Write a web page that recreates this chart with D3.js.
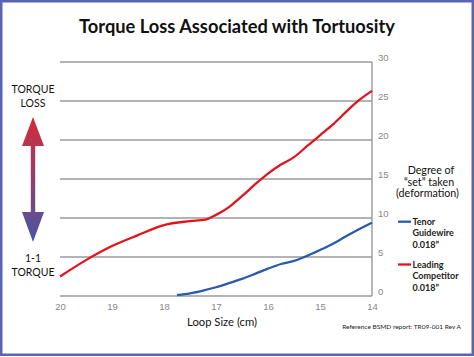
<!DOCTYPE html>
<html><head><meta charset="utf-8">
<script src="https://cdn.jsdelivr.net/npm/d3@7"></script>
<style>
html,body{margin:0;padding:0;background:#fff;}
svg{display:block;font-family:Lato,"Open Sans",sans-serif;}
</style></head>
<body>
<svg id="chart" width="474" height="357"></svg>
<script>
const title = "Torque Loss Associated with Tortuosity";
const xTicks = [20, 19, 18, 17, 16, 15, 14];
const yTicks = [0, 5, 10, 15, 20, 25, 30];
const competitorX = [20, 19.5, 19, 18.5, 18, 17.5, 17.2, 17, 16.75, 16.5, 16.25, 16, 15.75, 15.5, 15.25, 15, 14.75, 14.5, 14.25, 14];
const competitorY = [2.5, 4.6, 6.4, 7.8, 9.1, 9.6, 9.8, 10.4, 11.4, 12.8, 14.3, 15.7, 16.85, 17.8, 19.2, 20.6, 22.0, 23.6, 25.1, 26.3];
const tenorX = [17.75, 17.5, 17.25, 17, 16.75, 16.5, 16.25, 16, 15.75, 15.5, 15.25, 15, 14.75, 14.5, 14.25, 14];
const tenorY = [0.12, 0.35, 0.7, 1.12, 1.64, 2.2, 2.84, 3.5, 4.1, 4.5, 5.15, 5.9, 6.7, 7.65, 8.55, 9.4];
const seriesNames = [["Tenor", "Guidewire", "0.018\u201D"], ["Leading", "Competitor", "0.018\u201D"]];
const xTitle = "Loop Size (cm)";
const rightTitle = ["Degree of", "\u201Cset\u201D taken", "(deformation)"];
const leftTop = ["TORQUE", "LOSS"];
const leftBottom = ["1-1", "TORQUE"];
const footnote = "Reference BSMD report: TR09-001 Rev A";

const svg = d3.select("#chart");
const RED = "#e1141e", BLUE = "#2a5aa8", GRID = "#9a9a9a";

// scale a text's font size so that it spans a target width
function fitSize(sel, w) {
  const fs = +sel.attr("font-size");
  const cur = sel.node().getComputedTextLength();
  sel.attr("font-size", fs * w / cur);
  return fs * w / cur;
}

// border
svg.append("rect").attr("x", 1.25).attr("y", 1.25).attr("width", 471.5).attr("height", 353.5)
  .attr("fill", "#fff").attr("stroke", "#5a64b6").attr("stroke-width", 2.5);

const x = d3.scaleLinear().domain([20, 14]).range([60, 372]);
const y = d3.scaleLinear().domain([0, 30]).range([296, 62]);

fitSize(svg.append("text").attr("x", 237).attr("y", 32.5).attr("text-anchor", "middle")
  .attr("font-weight", "bold").attr("font-size", 19).attr("fill", "#111").text(title), 316);

// grid
svg.append("g").selectAll("line").data(yTicks).join("line")
  .attr("x1", x(20)).attr("x2", x(14)).attr("y1", d => y(d)).attr("y2", d => y(d))
  .attr("stroke", GRID).attr("stroke-width", 1.4);
svg.append("line").attr("x1", x(14)).attr("x2", x(14)).attr("y1", y(30)).attr("y2", y(0))
  .attr("stroke", GRID).attr("stroke-width", 1.4);

// axes
const xAxis = svg.append("g").attr("transform", `translate(0,${y(0)})`)
  .call(d3.axisBottom(x).tickValues(xTicks).tickSize(0).tickPadding(7).tickFormat(d3.format("d")));
xAxis.select(".domain").remove();
xAxis.selectAll("text").attr("fill", "#888").attr("font-size", 9.5).attr("font-family", "inherit");

const yAxis = svg.append("g").attr("transform", `translate(${x(14)},0)`)
  .call(d3.axisRight(y).tickValues(yTicks).tickSize(0).tickPadding(6).tickFormat(d3.format("d")));
yAxis.select(".domain").remove();
yAxis.selectAll("text").attr("fill", "#888").attr("font-size", 9.5).attr("font-family", "inherit")
  .attr("dy", "-0.2em");

fitSize(svg.append("text").attr("x", 222).attr("y", 325.5).attr("text-anchor", "middle")
  .attr("font-size", 13).attr("fill", "#111").text(xTitle), 70);

// lines
const line = d3.line().x(d => x(d[0])).y(d => y(d[1])).curve(d3.curveMonotoneX);
svg.append("path").datum(tenorX.map((v, i) => [v, tenorY[i]]))
  .attr("d", line).attr("fill", "none").attr("stroke", BLUE).attr("stroke-width", 2.3);
svg.append("path").datum(competitorX.map((v, i) => [v, competitorY[i]]))
  .attr("d", line).attr("fill", "none").attr("stroke", RED).attr("stroke-width", 2.3);

// left labels
const lt = svg.append("text").attr("text-anchor", "middle").attr("font-size", 10.5).attr("fill", "#111");
leftTop.forEach((t, i) => lt.append("tspan").attr("x", 33).attr("y", 93 + i * 13.5).text(t));
const lb = svg.append("text").attr("text-anchor", "middle").attr("font-size", 10.5).attr("fill", "#111");
leftBottom.forEach((t, i) => lb.append("tspan").attr("x", 33).attr("y", 262 + i * 13.5).text(t));

// arrow
const defs = svg.append("defs");
const g = defs.append("linearGradient").attr("id", "ag").attr("x1", 0).attr("x2", 0).attr("y1", 0).attr("y2", 1);
g.append("stop").attr("offset", "0%").attr("stop-color", "#d82a36");
g.append("stop").attr("offset", "100%").attr("stop-color", "#4656a6");
const ax = 33;
svg.append("path").attr("fill", "url(#ag)")
  .attr("d", `M${ax},117 L${ax + 11},146 L${ax + 2.2},146 L${ax + 2.2},212 L${ax + 11},212 L${ax},242 L${ax - 11},212 L${ax - 2.2},212 L${ax - 2.2},146 L${ax - 11},146 Z`);

// right title
const rtX = [431, 429, 427.5];
const rts = rightTitle.map((t, i) => svg.append("text").attr("text-anchor", "middle").attr("font-size", 12)
  .attr("fill", "#111").attr("x", rtX[i]).attr("y", 174 + i * 11.7).text(t));
const rfs = fitSize(rts[2], 63);
rts.forEach(s => s.attr("font-size", rfs));

// legend
[[BLUE, 221.7], [RED, 264.5]].forEach(([c, yy], k) => {
  svg.append("line").attr("x1", 398).attr("x2", 411).attr("y1", yy).attr("y2", yy)
    .attr("stroke", c).attr("stroke-width", 2.3);
  seriesNames[k].forEach((s, i) => {
    svg.append("text").attr("font-size", 9).attr("font-weight", "bold").attr("fill", "#222")
      .attr("x", 412.5).attr("y", yy + 3.3 + i * 11.4).text(s);
  });
});

fitSize(svg.append("text").attr("x", 461).attr("y", 328.5).attr("text-anchor", "end")
  .attr("font-size", 7.5).attr("fill", "#222").text(footnote), 119);
</script>
</body></html>
